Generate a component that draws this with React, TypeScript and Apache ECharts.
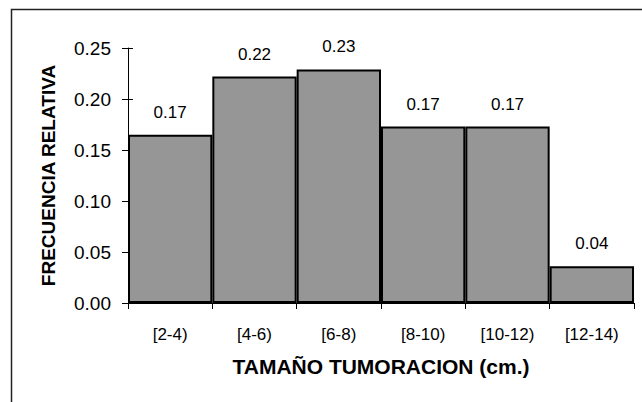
import React, { useEffect, useRef } from "react";
import * as echarts from "echarts";

const categories = ["[2-4)", "[4-6)", "[6-8)", "[8-10)", "[10-12)", "[12-14)"];
const frequencies = [0.165, 0.222, 0.229, 0.173, 0.173, 0.036];
const yTicks = { min: 0, max: 0.25, interval: 0.05 };
const xTitle = "TAMAÑO TUMORACION (cm.)";
const yTitle = "FRECUENCIA RELATIVA";

const FONT = "'Liberation Sans', Arial, sans-serif";

export default function App() {
  const ref = useRef<HTMLDivElement>(null);
  useEffect(() => {
    if (!ref.current) return;
    const chart = echarts.init(ref.current, null, { renderer: "svg" });
    chart.setOption({
      animation: false,
      backgroundColor: "#fff",
      grid: { left: 128, right: 8, top: 48, bottom: 99, containLabel: false },
      graphic: [
        {
          type: "rect",
          shape: { x: 11.5, y: 9.5, width: 700, height: 500 },
          style: { fill: "none", stroke: "#222", lineWidth: 1.5 },
          z: 100,
        },
      ],
      xAxis: {
        type: "category",
        data: categories,
        boundaryGap: true,
        axisLine: { show: true, lineStyle: { color: "#000", width: 1 } },
        axisTick: { show: true, alignWithLabel: false, length: 6, lineStyle: { color: "#000" } },
        axisLabel: { color: "#000", fontFamily: FONT, fontSize: 17, margin: 23 },
        name: xTitle,
        nameLocation: "middle",
        nameGap: 53,
        nameTextStyle: { color: "#000", fontFamily: FONT, fontSize: 21, fontWeight: "bold" },
      },
      yAxis: [
        {
          type: "value",
          min: yTicks.min,
          max: yTicks.max,
          interval: yTicks.interval,
          axisLine: { show: true, lineStyle: { color: "#000", width: 1 } },
          axisTick: { show: true, inside: false, length: 6, lineStyle: { color: "#000" } },
          splitLine: { show: false },
          axisLabel: {
            color: "#000",
            fontFamily: FONT,
            fontSize: 19,
            margin: 17,
            formatter: (v: number) => v.toFixed(2),
          },
          name: yTitle,
          nameLocation: "middle",
          nameGap: 70,
          nameRotate: 90,
          nameTextStyle: { color: "#000", fontFamily: FONT, fontSize: 19, fontWeight: "bold" },
        },
        {
          type: "value",
          position: "left",
          min: yTicks.min,
          max: yTicks.max,
          interval: yTicks.interval,
          axisLine: { show: false },
          axisTick: { show: true, inside: true, length: 5, lineStyle: { color: "#000" } },
          splitLine: { show: false },
          axisLabel: { show: false },
        },
      ],
      series: [
        {
          type: "bar",
          data: frequencies,
          barCategoryGap: 0,
          barGap: 0,
          itemStyle: { color: "#969696", borderColor: "#000", borderWidth: 2 },
          label: {
            show: true,
            position: "top",
            distance: 14,
            color: "#000",
            fontFamily: FONT,
            fontSize: 17,
            formatter: (p: any) => Number(p.value).toFixed(2),
          },
        },
      ],
    });
    return () => chart.dispose();
  }, []);
  return (
    <div
      ref={ref}
      style={{ position: "fixed", left: 0, top: 0, width: 642, height: 402, background: "#fff" }}
    />
  );
}
